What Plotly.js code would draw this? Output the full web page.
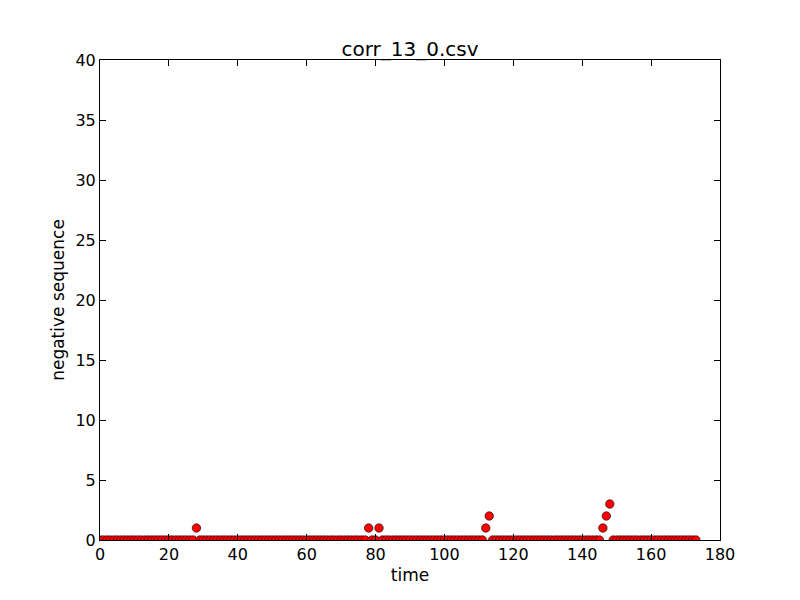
<!DOCTYPE html>
<html>
<head>
<meta charset="utf-8">
<script src="https://cdn.plot.ly/plotly-3.0.1.min.js"></script>
<style>html,body{margin:0;padding:0;background:#fff;}#chart{width:800px;height:600px;}</style>
</head>
<body>
<div id="chart"></div>
<script>
const chartTitle = "corr_13_0.csv";
const xLabel = "time";
const yLabel = "negative sequence";
const nPoints = 174;
const nonZeroTimes = [28, 78, 81, 112, 113, 146, 147, 148];
const nonZeroValues = [1, 1, 1, 1, 2, 1, 2, 3];
const xTicks = [0, 20, 40, 60, 80, 100, 120, 140, 160, 180];
const yTicks = [0, 5, 10, 15, 20, 25, 30, 35, 40];

const times = [];
const values = [];
for (let i = 0; i < nPoints; i++) {
  times.push(i);
  const k = nonZeroTimes.indexOf(i);
  values.push(k >= 0 ? nonZeroValues[k] : 0);
}

const font = {family: "DejaVu Sans", color: "#000"};
const axisCommon = {
  showline: true, linecolor: "#000", linewidth: 1, mirror: "ticks",
  ticks: "inside", ticklen: 6, tickwidth: 1, tickcolor: "#000",
  showgrid: false, zeroline: false,
  tickfont: Object.assign({size: 16}, font)
};

Plotly.newPlot("chart", [{
  x: times, y: values, type: "scatter", mode: "markers",
  cliponaxis: true,
  marker: {color: "#ff0000", size: 8.5, line: {color: "#000", width: 0.6}}
}], {
  width: 800, height: 600,
  margin: {l: 100, r: 80, t: 60, b: 60},
  paper_bgcolor: "#fff", plot_bgcolor: "#fff",
  showlegend: false,
  title: {text: chartTitle, font: Object.assign({size: 20}, font), x: 0.5125, xanchor: "center", yref: "paper", y: 1, yanchor: "bottom", pad: {b: 4}},
  xaxis: Object.assign({}, axisCommon, {range: [0, 180], tickvals: xTicks, ticktext: xTicks.map(String),
    title: {text: xLabel, font: Object.assign({size: 17}, font), standoff: 5}}),
  yaxis: Object.assign({}, axisCommon, {range: [0, 40], tickvals: yTicks, ticktext: yTicks.map(String),
    title: {text: yLabel, font: Object.assign({size: 17}, font), standoff: 6}})
}, {staticPlot: true});
</script>
</body>
</html>
